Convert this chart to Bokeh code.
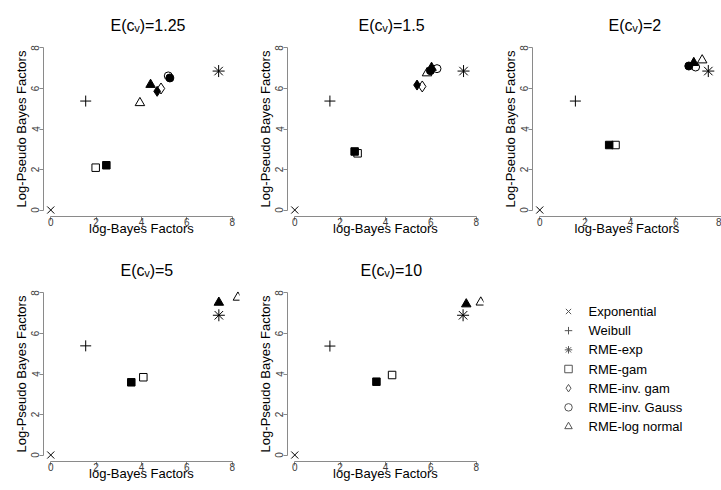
import math
from bokeh.plotting import figure
from bokeh.models import Range1d, FixedTicker, ColumnDataSource
from bokeh.core.properties import value
from bokeh.layouts import row, column
from bokeh.embed import file_html
from bokeh.resources import INLINE

NAN = float("nan")

# ---------------- data ----------------
panel_titles = ["E(cᵥ)=1.25", "E(cᵥ)=1.5", "E(cᵥ)=2", "E(cᵥ)=5", "E(cᵥ)=10"]
model_labels = ["Exponential", "Weibull", "RME-exp", "RME-gam",
                "RME-inv. gam", "RME-inv. Gauss", "RME-log normal"]
axis_ticks = [0, 2, 4, 6, 8]
x_title = "log-Bayes Factors"
y_title = "Log-Pseudo Bayes Factors"

# one value per panel (E(cv) = 1.25, 1.5, 2, 5, 10)
exp_x = [0.0, 0.0, 0.0, 0.0, 0.0]
exp_y = [0.0, 0.0, 0.0, 0.0, 0.0]
weib_x = [1.54, 1.55, 1.57, 1.54, 1.55]
weib_y = [5.38, 5.38, 5.38, 5.39, 5.38]
rmeexp_x = [7.40, 7.44, 7.43, 7.41, 7.42]
rmeexp_y = [6.86, 6.86, 6.86, 6.90, 6.90]
gam_open_x = [1.98, 2.77, 3.34, 4.08, 4.29]
gam_open_y = [2.09, 2.80, 3.21, 3.84, 3.95]
gam_fill_x = [2.45, 2.64, 3.06, 3.55, 3.60]
gam_fill_y = [2.21, 2.89, 3.21, 3.59, 3.62]
invgam_open_x = [4.86, 5.62, NAN, NAN, NAN]
invgam_open_y = [6.00, 6.10, NAN, NAN, NAN]
invgam_fill_x = [4.69, 5.39, NAN, NAN, NAN]
invgam_fill_y = [5.86, 6.17, NAN, NAN, NAN]
invgauss_open_x = [5.18, 6.27, 6.87, NAN, NAN]
invgauss_open_y = [6.62, 6.98, 7.06, NAN, NAN]
invgauss_fill_x = [5.25, 5.98, 6.57, NAN, NAN]
invgauss_fill_y = [6.52, 6.88, 7.11, NAN, NAN]
lognorm_open_x = [3.93, 5.83, 7.16, 8.25, 8.20]
lognorm_open_y = [5.29, 6.76, 7.40, 7.78, 7.54]
lognorm_fill_x = [4.40, 6.03, 6.79, 7.41, 7.56]
lognorm_fill_y = [6.19, 7.03, 7.27, 7.53, 7.45]

# ---------------- styling ----------------
FONT = "Liberation Sans"
AXIS_COL = "#8a8a8a"
TICKLAB_COL = "#3a3a3a"

series = [
    (exp_x, exp_y, "x", 10, False),
    (weib_x, weib_y, "cross", 11, False),
    (rmeexp_x, rmeexp_y, "asterisk", 12, False),
    (gam_open_x, gam_open_y, "square", 7.5, False),
    (gam_fill_x, gam_fill_y, "square", 7.5, True),
    (invgam_open_x, invgam_open_y, "diamond", 11, False),
    (invgam_fill_x, invgam_fill_y, "diamond", 10, True),
    (invgauss_open_x, invgauss_open_y, "circle", 8, False),
    (invgauss_fill_x, invgauss_fill_y, "circle", 8, True),
    (lognorm_open_x, lognorm_open_y, "triangle", 9.5, False),
    (lognorm_fill_x, lognorm_fill_y, "triangle", 9.5, True),
]
legend_markers = ["x", "cross", "asterisk", "square", "diamond", "circle", "triangle"]

UNITS_PER_PX = 8.64 / 196.0
FRAME_H = 175
TOP = 41


def make_panel(i, width, left, right, title_offset):
    frame_w = width - left - right
    x_end = -0.32 + frame_w * UNITS_PER_PX
    p = figure(width=width, height=245, output_backend="svg", toolbar_location=None,
               x_range=Range1d(-0.32, x_end), y_range=Range1d(-0.32, 8.32),
               min_border_left=left, min_border_right=right,
               min_border_top=TOP, min_border_bottom=245 - TOP - FRAME_H)
    p.outline_line_color = None
    p.grid.visible = False
    p.background_fill_color = "white"
    p.border_fill_color = "white"

    p.title.text = panel_titles[i]
    p.title.text_font = FONT
    p.title.text_font_size = "16px"
    p.title.text_font_style = "normal"
    p.title.text_color = "black"
    p.title.align = "left"
    p.title.offset = title_offset
    p.title.standoff = 15

    for ax, lab in ((p.xaxis[0], x_title), (p.yaxis[0], y_title)):
        ax.bounds = (0, 8)
        ax.ticker = FixedTicker(ticks=axis_ticks)
        ax.minor_tick_line_color = None
        ax.major_tick_in = 0
        ax.major_tick_out = 4
        ax.axis_line_color = AXIS_COL
        ax.major_tick_line_color = AXIS_COL
        ax.major_label_text_font = FONT
        ax.major_label_text_font_size = "10px"
        ax.major_label_text_color = TICKLAB_COL
        ax.axis_label = lab
        ax.axis_label_text_font = FONT
        ax.axis_label_text_font_size = "13px"
        ax.axis_label_text_font_style = "normal"
        ax.axis_label_text_color = "black"
    p.xaxis.major_label_standoff = -3
    p.xaxis.axis_label_standoff = -8
    p.yaxis.major_label_standoff = 0
    p.yaxis.axis_label_standoff = 0
    p.yaxis.major_label_orientation = "parallel"

    for xs, ys, mk, sz, filled in series:
        src = ColumnDataSource(dict(x=[xs[i]], y=[ys[i]]))
        p.scatter("x", "y", source=src, marker=mk, size=sz,
                  line_color="black", line_width=1,
                  fill_color="black" if filled else None)
    return p


p1 = make_panel(0, 240, 43, 1, 67)
p2 = make_panel(1, 244, 47, 1, 71)
p3 = make_panel(2, 237, 48, 0, 76)
p4 = make_panel(3, 240, 43, 1, 77)
p5 = make_panel(4, 244, 47, 1, 73)

# legend panel: same frame box as the other panels (top border 41, height 175)
ROW_PX = 19.17
FIRST_ROW_IN_FRAME = 25.0
y_end = FIRST_ROW_IN_FRAME / ROW_PX
p6 = figure(width=237, height=245, output_backend="svg", toolbar_location=None,
            x_axis_location=None, y_axis_location=None,
            min_border_left=0, min_border_right=0,
            min_border_top=TOP, min_border_bottom=245 - TOP - FRAME_H,
            x_range=Range1d(0, 237),
            y_range=Range1d(y_end - FRAME_H / ROW_PX, y_end))
p6.outline_line_color = None
p6.grid.visible = False
n_items = len(model_labels)
leg_src = ColumnDataSource(dict(
    row=[-k for k in range(n_items)],
    sym_x=[84] * n_items,
    txt_x=[104] * n_items,
    label=model_labels,
    marker=legend_markers,
))
p6.scatter("sym_x", "row", source=leg_src, marker="marker", size=7.5,
           line_color="#555555", line_width=1, fill_color=None)
p6.text("txt_x", "row", text="label", source=leg_src,
        text_font=value(FONT), text_font_size="13px", text_color="black",
        text_baseline="middle", text_align="left")

layout = column(row(p1, p2, p3), row(p4, p5, p6))

with open("out.html", "w") as f:
    f.write(file_html(layout, INLINE))
